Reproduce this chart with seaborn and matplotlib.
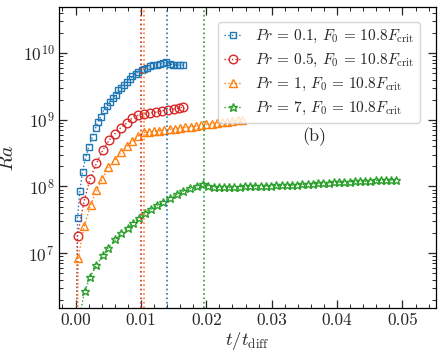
import numpy as np
import pandas as pd
import matplotlib
matplotlib.use("Agg")
import matplotlib.pyplot as plt
import seaborn as sns

# Pr = 0.1
t_pr01 = [0.0001, 0.0003, 0.00066, 0.00107, 0.00158, 0.00204, 0.0026, 0.00306, 0.00346,
          0.00387, 0.00433, 0.00475, 0.00525, 0.00567, 0.00613, 0.00653, 0.00694, 0.0074,
          0.0078, 0.0083, 0.0087, 0.0092, 0.0096, 0.0101, 0.0105, 0.0109, 0.0114, 0.0119,
          0.0124, 0.0129, 0.0134, 0.0139, 0.0144, 0.0149, 0.0155, 0.0160, 0.0165]
logra_pr01 = [5.0, 7.53, 7.935, 8.224, 8.449, 8.599, 8.749, 8.875, 8.974,
              9.049, 9.15, 9.21, 9.274, 9.325, 9.375, 9.44, 9.484, 9.525,
              9.574, 9.615, 9.65, 9.69, 9.72, 9.74, 9.76, 9.775, 9.80, 9.815,
              9.825, 9.835, 9.85, 9.86, 9.84, 9.825, 9.82, 9.82, 9.82]

# Pr = 0.5
t_pr05 = [0.0001, 0.0003, 0.0013, 0.0022, 0.0032, 0.0042, 0.0051, 0.0060, 0.0069, 0.0078,
          0.0087, 0.0096, 0.0105, 0.0114, 0.0123, 0.0132, 0.0141, 0.0150, 0.0158, 0.0164]
logra_pr05 = [5.0, 7.26, 7.78, 8.11, 8.35, 8.55, 8.69, 8.79, 8.88, 8.95,
              9.03, 9.07, 9.085, 9.10, 9.115, 9.135, 9.15, 9.16, 9.175, 9.19]

# Pr = 1
t_pr1 = [0.0002, 0.0004, 0.0013, 0.0023, 0.0032, 0.0041, 0.0050, 0.0060, 0.0069, 0.0078,
         0.0087, 0.0096, 0.0104, 0.0112, 0.0120, 0.0128, 0.0136, 0.0144, 0.0152, 0.0160,
         0.0168, 0.0176, 0.0184, 0.0192, 0.0200, 0.0208, 0.0216, 0.0224, 0.0232, 0.0240,
         0.0248, 0.0254]
logra_pr1 = [5.0, 6.93, 7.40, 7.72, 7.95, 8.11, 8.29, 8.40, 8.51, 8.60,
             8.675, 8.76, 8.81, 8.815, 8.825, 8.835, 8.845, 8.855, 8.865, 8.875,
             8.885, 8.895, 8.905, 8.915, 8.93, 8.94, 8.95, 8.96, 8.97, 8.98,
             8.99, 9.0]

# Pr = 7
t_pr7 = [0.0005, 0.0014, 0.0022, 0.0032, 0.0042, 0.0050, 0.0061, 0.0070, 0.0080, 0.0088,
         0.0097, 0.0106, 0.0116, 0.0124, 0.0134, 0.0144, 0.0155, 0.0165, 0.0175, 0.0185,
         0.0195, 0.0203, 0.0211, 0.0219, 0.0227, 0.0235, 0.0243, 0.0251, 0.0259, 0.0267,
         0.0275, 0.0283, 0.0291, 0.0299, 0.0307, 0.0315, 0.0323, 0.0331, 0.0339, 0.0347,
         0.0355, 0.0363, 0.0371, 0.0379, 0.0387, 0.0395, 0.0403, 0.0411, 0.0419, 0.0427,
         0.0435, 0.0443, 0.0451, 0.0459, 0.0467, 0.0475, 0.0483, 0.0490]
logra_pr7 = [6.0, 6.43, 6.64, 6.82, 6.965, 7.08, 7.205, 7.295, 7.38, 7.455,
             7.53, 7.605, 7.665, 7.715, 7.77, 7.83, 7.88, 7.93, 7.97, 8.005,
             8.03, 8.01, 7.995, 7.99, 7.99, 7.99, 7.995, 7.995, 8.0, 8.0,
             8.005, 8.005, 8.01, 8.01, 8.015, 8.015, 8.02, 8.02, 8.025, 8.03,
             8.035, 8.04, 8.045, 8.05, 8.055, 8.06, 8.06, 8.065, 8.07, 8.075,
             8.075, 8.08, 8.085, 8.09, 8.09, 8.095, 8.10, 8.10]

# transition times (vertical dotted lines)
t_trans = {"red": 0.0100, "orange": 0.0105, "blue": 0.0140, "green": 0.0197}

sns.set_style("ticks")
plt.rcParams["font.family"] = "serif"
plt.rcParams["font.serif"] = ["cmr10", "DejaVu Serif"]
plt.rcParams["mathtext.fontset"] = "cm"
plt.rcParams["axes.formatter.use_mathtext"] = True

colors = {"blue": "#1f77b4", "red": "#d62728", "orange": "#ff7f0e", "green": "#2ca02c"}

series = [
    (t_pr01, logra_pr01, "blue", "s", 4.0, r"$Pr\,=\,0.1,\, F_0\,=\,10.8F_{\rm crit}$"),
    (t_pr05, logra_pr05, "red", "o", 6.2, r"$Pr\,=\,0.5,\, F_0\,=\,10.8F_{\rm crit}$"),
    (t_pr1, logra_pr1, "orange", "^", 5.4, r"$Pr\,=\,1,\, F_0\,=\,10.8F_{\rm crit}$"),
    (t_pr7, logra_pr7, "green", "*", 6.3, r"$Pr\,=\,7,\, F_0\,=\,10.8F_{\rm crit}$"),
]

fig = plt.figure(figsize=(4.42, 3.57), dpi=100)
ax = fig.add_axes([0.134, 0.137, 0.852, 0.844])

for t, logra, c, m, ms, lab in series:
    df = pd.DataFrame({"t": t, "Ra": 10 ** np.array(logra)})
    sns.lineplot(data=df, x="t", y="Ra", ax=ax, color=colors[c], marker=m, markersize=ms,
                 markerfacecolor="none", markeredgecolor=colors[c], markeredgewidth=1.0,
                 linestyle=":", linewidth=1.0, label=lab, sort=False)

for c, tv in t_trans.items():
    ax.axvline(tv, color=colors[c], linestyle=":", linewidth=1.2)

ax.set_yscale("log")
ax.set_xlim(-0.0025, 0.0551)
ax.set_ylim(1.5e6, 4.95e10)
ax.set_xticks([0.0, 0.01, 0.02, 0.03, 0.04, 0.05])
ax.xaxis.set_major_formatter(matplotlib.ticker.FormatStrFormatter("%.2f"))
ax.xaxis.set_minor_locator(matplotlib.ticker.MultipleLocator(0.002))
ax.tick_params(which="both", direction="in", top=True, right=True, labelsize=12.5)
ax.tick_params(which="major", length=6, width=0.9)
ax.tick_params(which="minor", length=3, width=0.7)
for s in ax.spines.values():
    s.set_linewidth(0.9)
    s.set_color("black")

ax.set_xlabel(r"$t/t_{\rm diff}$", fontsize=13.5, labelpad=1)
ax.set_ylabel(r"$Ra$", fontsize=14)
ax.text(0.677, 0.569, "(b)", transform=ax.transAxes, fontsize=13, ha="center", va="center")

ax.legend(loc="upper right", bbox_to_anchor=(0.958, 0.95), borderaxespad=0, fontsize=11,
          handlelength=1.2, handletextpad=0.8, labelspacing=0.45, frameon=True, fancybox=True)

fig.savefig("out.png", dpi=100)
